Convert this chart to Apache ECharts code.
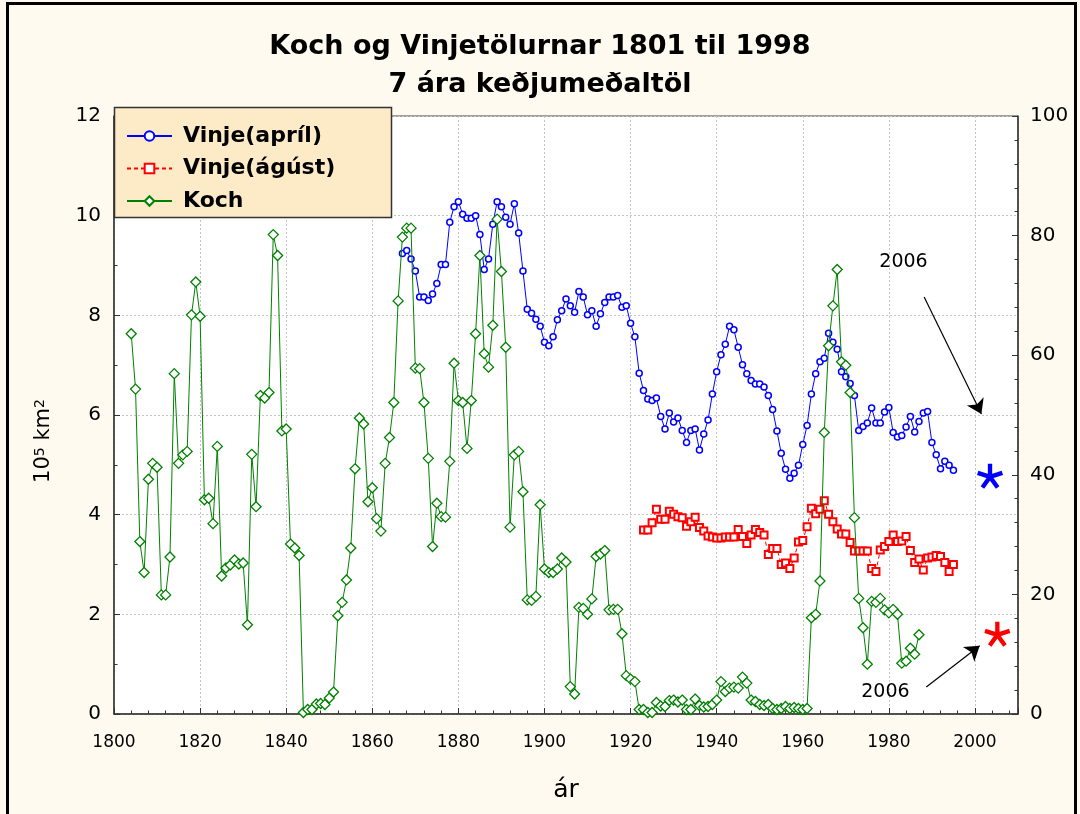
<!DOCTYPE html>
<html>
<head>
<meta charset="utf-8">
<script src="https://cdn.jsdelivr.net/npm/echarts/dist/echarts.min.js"></script>
<style>
  html, body { margin: 0; padding: 0; background: #fefaef; }
  #chart { width: 1080px; height: 814px; }
</style>
</head>
<body>
<div id="chart"></div>
<script>
// Vinje (April) sea-ice extent, 7-year running mean, 10^5 km^2
const aprilYears = [
  1867,1868,1869,1870,1871,1872,1873,1874,1875,1876,
  1877,1878,1879,1880,1881,1882,1883,1884,1885,1886,
  1887,1888,1889,1890,1891,1892,1893,1894,1895,1896,
  1897,1898,1899,1900,1901,1902,1903,1904,1905,1906,
  1907,1908,1909,1910,1911,1912,1913,1914,1915,1916,
  1917,1918,1919,1920,1921,1922,1923,1924,1925,1926,
  1927,1928,1929,1930,1931,1932,1933,1934,1935,1936,
  1937,1938,1939,1940,1941,1942,1943,1944,1945,1946,
  1947,1948,1949,1950,1951,1952,1953,1954,1955,1956,
  1957,1958,1959,1960,1961,1962,1963,1964,1965,1966,
  1967,1968,1969,1970,1971,1972,1973,1974,1975,1976,
  1977,1978,1979,1980,1981,1982,1983,1984,1985,1986,
  1987,1988,1989,1990,1991,1992,1993,1994,1995
];
const aprilValues = [
  9.24,9.30,9.13,8.89,8.37,8.37,8.30,8.43,8.64,9.02,
  9.02,9.87,10.18,10.28,10.03,9.95,9.95,10.00,9.62,8.92,
  9.13,9.83,10.28,10.18,9.97,9.83,10.24,9.65,8.89,8.12,
  8.04,7.92,7.78,7.46,7.39,7.57,7.91,8.09,8.33,8.19,
  8.06,8.48,8.37,8.01,8.09,7.78,8.03,8.26,8.37,8.37,
  8.40,8.16,8.19,7.84,7.57,6.84,6.49,6.32,6.29,6.34,
  5.97,5.72,6.04,5.86,5.94,5.69,5.45,5.69,5.72,5.30,
  5.62,5.90,6.42,6.87,7.21,7.42,7.78,7.71,7.36,7.01,
  6.83,6.69,6.62,6.62,6.56,6.39,6.11,5.68,5.23,4.91,
  4.73,4.83,4.99,5.41,5.79,6.42,6.83,7.07,7.14,7.64,
  7.46,7.32,6.87,6.77,6.63,6.39,5.69,5.77,5.84,6.14,
  5.84,5.84,6.06,6.15,5.65,5.56,5.59,5.76,5.97,5.66,
  5.87,6.04,6.07,5.45,5.20,4.92,5.07,4.99,4.89
];

// Vinje (August)
const augustYears = [
  1923,1924,1925,1926,1927,1928,1929,1930,1931,1932,
  1933,1934,1935,1936,1937,1938,1939,1940,1941,1942,
  1943,1944,1945,1946,1947,1948,1949,1950,1951,1952,
  1953,1954,1955,1956,1957,1958,1959,1960,1961,1962,
  1963,1964,1965,1966,1967,1968,1969,1970,1971,1972,
  1973,1974,1975,1976,1977,1978,1979,1980,1981,1982,
  1983,1984,1985,1986,1987,1988,1989,1990,1991,1992,
  1993,1994,1995
];
const augustValues = [
  3.69,3.69,3.84,4.11,3.91,3.91,4.07,4.01,3.96,3.94,
  3.77,3.86,3.95,3.74,3.67,3.57,3.55,3.53,3.53,3.55,
  3.55,3.55,3.70,3.56,3.42,3.59,3.70,3.64,3.59,3.20,
  3.32,3.32,3.00,3.03,2.92,3.13,3.45,3.48,3.76,4.13,
  4.02,4.11,4.28,4.01,3.86,3.71,3.61,3.61,3.44,3.27,
  3.27,3.27,3.27,2.92,2.86,3.29,3.36,3.46,3.59,3.46,
  3.47,3.56,3.28,3.04,3.11,2.89,3.13,3.15,3.18,3.16,
  3.04,2.86,3.00
];

// Koch ice index (drawn against the left scale)
const kochYears = [
  1804,1805,1806,1807,1808,1809,1810,1811,1812,1813,
  1814,1815,1816,1817,1818,1819,1820,1821,1822,1823,
  1824,1825,1826,1827,1828,1829,1830,1831,1832,1833,
  1834,1835,1836,1837,1838,1839,1840,1841,1842,1843,
  1844,1845,1846,1847,1848,1849,1850,1851,1852,1853,
  1854,1855,1856,1857,1858,1859,1860,1861,1862,1863,
  1864,1865,1866,1867,1868,1869,1870,1871,1872,1873,
  1874,1875,1876,1877,1878,1879,1880,1881,1882,1883,
  1884,1885,1886,1887,1888,1889,1890,1891,1892,1893,
  1894,1895,1896,1897,1898,1899,1900,1901,1902,1903,
  1904,1905,1906,1907,1908,1909,1910,1911,1912,1913,
  1914,1915,1916,1917,1918,1919,1920,1921,1922,1923,
  1924,1925,1926,1927,1928,1929,1930,1931,1932,1933,
  1934,1935,1936,1937,1938,1939,1940,1941,1942,1943,
  1944,1945,1946,1947,1948,1949,1950,1951,1952,1953,
  1954,1955,1956,1957,1958,1959,1960,1961,1962,1963,
  1964,1965,1966,1967,1968,1969,1970,1971,1972,1973,
  1974,1975,1976,1977,1978,1979,1980,1981,1982,1983,
  1984,1985,1986,1987
];
const kochValues = [
  7.63,6.52,3.46,2.84,4.71,5.03,4.95,2.39,2.39,3.15,
  6.83,5.03,5.20,5.27,8.01,8.67,7.98,4.30,4.33,3.82,
  5.37,2.77,2.93,2.99,3.09,3.01,3.03,1.79,5.21,4.16,
  6.39,6.34,6.45,9.62,9.20,5.68,5.72,3.41,3.33,3.18,
  0.03,0.09,0.09,0.20,0.21,0.19,0.32,0.44,1.97,2.24,
  2.69,3.33,4.92,5.94,5.82,4.26,4.54,3.92,3.67,5.03,
  5.55,6.25,8.29,9.57,9.75,9.75,6.94,6.93,6.25,5.13,
  3.36,4.23,3.96,3.95,5.07,7.04,6.29,6.25,5.33,6.29,
  7.63,9.20,7.23,6.96,7.80,9.93,8.88,7.36,3.75,5.20,
  5.27,4.46,2.29,2.28,2.36,4.20,2.91,2.84,2.84,2.91,
  3.13,3.05,0.55,0.40,2.14,2.12,2.00,2.31,3.16,3.21,
  3.28,2.09,2.10,2.10,1.61,0.77,0.70,0.65,0.09,0.09,
  0.03,0.03,0.23,0.16,0.15,0.27,0.28,0.24,0.28,0.09,
  0.09,0.30,0.17,0.14,0.15,0.19,0.28,0.65,0.45,0.52,
  0.54,0.52,0.74,0.62,0.28,0.25,0.19,0.17,0.19,0.11,
  0.09,0.11,0.15,0.11,0.13,0.11,0.09,0.11,1.93,2.00,
  2.67,5.65,7.39,8.19,8.92,7.07,7.00,6.45,3.94,2.32,
  1.73,1.00,2.26,2.24,2.32,2.09,2.03,2.10,2.00,1.02,
  1.06,1.32,1.20,1.59
];

// 2006 observations (asterisks) and their notes
const starYears = [2003.5, 2005.2];
const starValues = [4.77, 1.60];
const starColors = ['#0000ff', '#ff0000'];
const noteYears = [1983.4, 1979.2];
const noteValues = [9.07, 0.44];
const noteText = ['2006', '2006'];
const arrowFrom = [[1988.2, 8.37], [1988.7, 0.54]];
const arrowTo = [[2001.5, 6.02], [2001.1, 1.37]];

const xTicks = [1800, 2010];
const leftTicks = [0, 12];
const rightTicks = [0, 100];

const zip = (xs, ys) => xs.map((x, i) => [x, ys[i]]);

// five-armed asterisk
const starPath = 'path://M42 50L42 2L58 2L58 50Z' +
  'M47.53 42.39L93.18 27.56L98.12 42.78L52.47 57.61Z' +
  'M56.47 45.3L84.68 84.13L71.74 93.53L43.53 54.7Z' +
  'M56.47 54.7L28.26 93.53L15.32 84.13L43.53 45.3Z' +
  'M47.53 57.61L1.88 42.78L6.82 27.56L52.47 42.39Z';

const FONT = 'DejaVu Sans';
const gridLine = { show: true, lineStyle: { color: '#c4c4c4', width: 1, type: [2, 2] } };
const axisDark = { color: '#333', width: 1.5 };

const chart = echarts.init(document.getElementById('chart'), null, { renderer: 'canvas' });

const option = {
  animation: false,
  backgroundColor: '#fefaef',
  textStyle: { fontFamily: FONT },
  title: {
    text: 'Koch og Vinjetölurnar 1801 til 1998\n7 ára keðjumeðaltöl',
    left: 'center',
    top: 23,
    textStyle: { fontFamily: FONT, fontSize: 27, fontWeight: 'bold', color: '#000', lineHeight: 38 }
  },
  grid: {
    left: 114, right: 62, top: 116, bottom: 100,
    show: true, backgroundColor: '#ffffff', borderColor: '#444', borderWidth: 1
  },
  legend: {
    data: ['Vinje(apríl)', 'Vinje(ágúst)', 'Koch'],
    orient: 'vertical',
    left: 121, top: 119,
    itemWidth: 45, itemHeight: 12, itemGap: 8.5,
    textStyle: { fontFamily: FONT, fontSize: 22, fontWeight: 'bold', color: '#000', lineHeight: 24, padding: [0, 0, 0, 6] },
    z: 6
  },
  xAxis: [{
    type: 'value', min: xTicks[0], max: xTicks[1], interval: 20, position: 'bottom',
    name: 'ár', nameLocation: 'middle', nameGap: 64,
    nameTextStyle: { fontFamily: FONT, fontSize: 25, color: '#000' },
    axisLine: { show: true, lineStyle: axisDark },
    axisTick: { show: true, inside: true, length: 6, lineStyle: { color: '#333' } },
    axisLabel: { fontFamily: FONT, fontSize: 17, color: '#000', margin: 20,
      formatter: v => (v % 20 === 0 ? String(v) : '') },
    splitLine: gridLine
  }, {
    type: 'value', min: xTicks[0], max: xTicks[1], interval: 4, position: 'bottom',
    axisLine: { show: false },
    axisTick: { show: true, inside: true, length: 3.5, lineStyle: { color: '#333' } },
    axisLabel: { show: false },
    splitLine: { show: false }
  }],
  yAxis: [{
    type: 'value', min: leftTicks[0], max: leftTicks[1], interval: 2, position: 'left',
    name: '10{s|5} km{s|2}', nameLocation: 'middle', nameGap: 60, nameRotate: 90,
    nameTextStyle: { fontFamily: FONT, fontSize: 21, color: '#000', padding: [0, 52, 0, 0],
      rich: { s: { fontFamily: FONT, fontSize: 14, color: '#000', verticalAlign: 'top', lineHeight: 14 } } },
    axisLine: { show: true, lineStyle: axisDark },
    axisTick: { show: true, inside: true, length: 6, lineStyle: { color: '#333' } },
    minorTick: { show: true, splitNumber: 2, length: 3.5, lineStyle: { color: '#333' } },
    axisLabel: { fontFamily: FONT, fontSize: 20, color: '#000', margin: 13 },
    splitLine: gridLine
  }, {
    type: 'value', min: rightTicks[0], max: rightTicks[1], interval: 20, position: 'right',
    axisLine: { show: true, lineStyle: axisDark },
    axisTick: { show: true, inside: true, length: 6, lineStyle: { color: '#333' } },
    minorTick: { show: true, splitNumber: 5, length: 3.5, lineStyle: { color: '#333' } },
    axisLabel: { fontFamily: FONT, fontSize: 20, color: '#000', margin: 12 },
    splitLine: { show: false }
  }],
  series: [{
    name: 'Vinje(apríl)', type: 'line', data: zip(aprilYears, aprilValues),
    symbol: 'circle', symbolSize: 6, showSymbol: true,
    itemStyle: { color: '#ffffff', borderColor: '#0000ff', borderWidth: 1.5 },
    lineStyle: { color: '#0000ff', width: 1 },
    z: 2
  }, {
    name: 'Vinje(ágúst)', type: 'line', data: zip(augustYears, augustValues),
    symbol: 'rect', symbolSize: 7, showSymbol: true,
    itemStyle: { color: '#ffffff', borderColor: '#ff0000', borderWidth: 2 },
    lineStyle: { color: '#ff0000', width: 1, type: [4, 3] },
    z: 3
  }, {
    name: 'Koch', type: 'line', data: zip(kochYears, kochValues),
    symbol: 'diamond', symbolSize: 10, showSymbol: true,
    itemStyle: { color: '#ffffff', borderColor: '#008000', borderWidth: 1.3 },
    lineStyle: { color: '#008000', width: 1 },
    z: 4
  }, {
    name: 'stars', type: 'scatter',
    data: starYears.map((y, i) => ({ value: [y, starValues[i]], itemStyle: { color: starColors[i], opacity: 1 } })),
    symbol: starPath, symbolSize: [26, 25], z: 5,
    itemStyle: { opacity: 1 },
    markLine: {
      silent: true, animation: false,
      symbol: ['none', 'arrow'], symbolSize: 14,
      lineStyle: { color: '#000', width: 1.2, type: 'solid', opacity: 1 },
      label: { show: false },
      data: arrowFrom.map((p, i) => [{ coord: p }, { coord: arrowTo[i] }])
    }
  }, {
    name: 'notes', type: 'scatter',
    data: noteYears.map((y, i) => [y, noteValues[i]]),
    symbol: 'circle', symbolSize: 1, itemStyle: { color: 'rgba(0,0,0,0)', opacity: 1 },
    label: { show: true, position: 'inside', formatter: p => noteText[p.dataIndex],
      fontFamily: FONT, fontSize: 19, color: '#000', opacity: 1 },
    z: 5
  }],
  graphic: [{
    type: 'rect', z: 3, silent: true,
    shape: { x: 114.5, y: 107.5, width: 277, height: 110 },
    style: { fill: '#fdeac6', stroke: '#333', lineWidth: 1.5 }
  }, {
    type: 'rect', z: 100, silent: true,
    shape: { x: 7.5, y: 3.5, width: 1068, height: 900 },
    style: { fill: 'none', stroke: '#000', lineWidth: 3 }
  }]
};

chart.setOption(option);
</script>
</body>
</html>
